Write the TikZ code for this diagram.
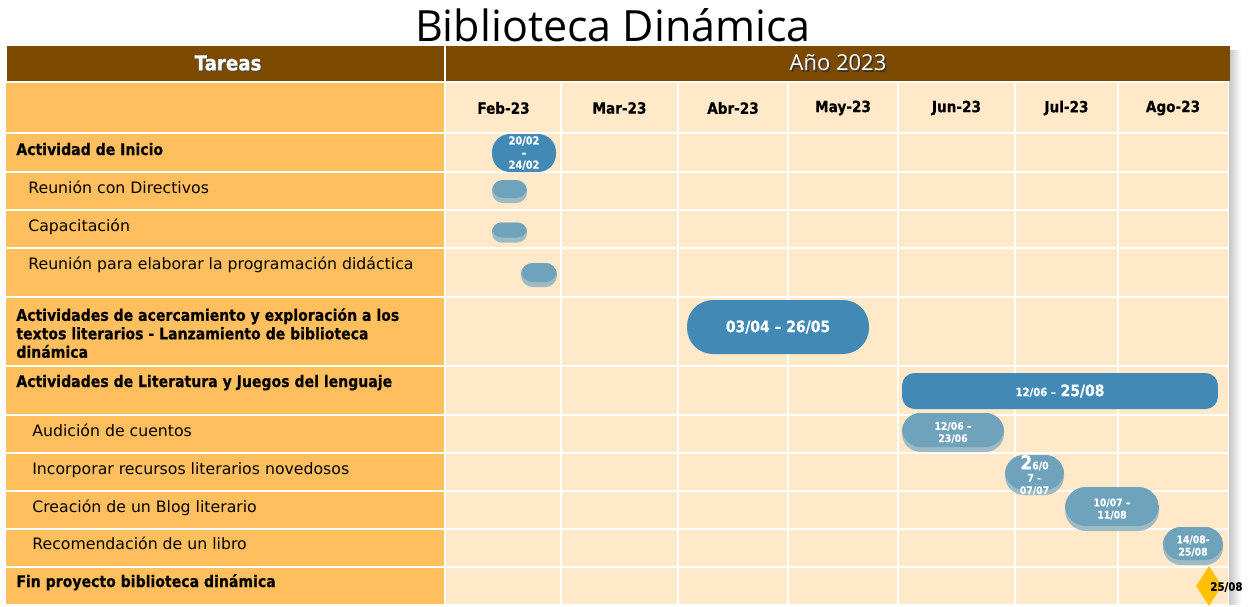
\documentclass[tikz,border=0pt]{standalone}
\usepackage{fontspec}
\usetikzlibrary{shapes.geometric}
\setmainfont{DejaVu Sans}
\newfontfamily\titlefont{Open Sans}
\newfontfamily\strongfont{DejaVu Sans}[FakeStretch=0.88, BoldFeatures={FakeBold=0.4}]
\definecolor{headbrown}{HTML}{7B4A00}
\definecolor{taskorange}{HTML}{FFBF5F}
\definecolor{cellcream}{HTML}{FFE9C9}
\definecolor{bardark}{HTML}{428AB5}
\definecolor{barmid}{HTML}{6FA2BB}
\definecolor{barlow}{HTML}{9EBBC5}
\definecolor{milestonegold}{HTML}{FFC000}
\tikzset{
  task/.style={anchor=base west, inner sep=0, font=\fontsize{8.95}{11}\selectfont},
  maintask/.style={anchor=base west, inner sep=0, font=\strongfont\bfseries\fontsize{9.1}{10.5}\selectfont},
  month/.style={font=\strongfont\bfseries\fontsize{8.8}{10}\selectfont},
  bigbar/.style={fill=bardark, text=white, inner sep=0, align=center, font=\strongfont\bfseries\fontsize{9}{10}\selectfont},
  smallbar/.style={fill=barlow, text=white, inner sep=0, align=center, rounded corners=#1,
    font=\strongfont\bfseries\fontsize{6}{7}\selectfont,
    path picture={\fill[barmid, rounded corners=#1] (path picture bounding box.north west)
      rectangle ([yshift=0.1cm]path picture bounding box.south east);}},
  milestone/.style={shape=diamond, fill=milestonegold, inner sep=0, minimum width=0.52cm, minimum height=0.80cm},
  gridline/.style={white, line width=0.04cm}
}
\begin{document}
\begin{tikzpicture}[x=0.02cm, y=-0.02cm]
		\useasboundingbox (0,0) rectangle (1256,606);
		% title
		\node (titulo) at (613,41) [anchor=base, inner sep=0, font=\titlefont\fontsize{24.5}{28}\selectfont] {Biblioteca Dinámica};
		% shadow and table background
		\shade [left color=black!22, right color=white] (1229,50) rectangle (1241,604);
		\fill [headbrown] (7,46) rectangle (444,81);
		\fill [headbrown] (446,46) rectangle (1230,81);
		\fill [taskorange] (6,83) rectangle (445,604);
		\fill [cellcream] (445,83) rectangle (1228,604);
		\draw [gridline] (6,133) -- (1228,133) (6,172) -- (1228,172) (6,210) -- (1228,210) (6,248) -- (1228,248);
		\draw [gridline] (6,297) -- (1228,297) (6,366) -- (1228,366) (6,415) -- (1228,415) (6,453) -- (1228,453);
		\draw [gridline] (6,491) -- (1228,491) (6,529) -- (1228,529) (6,567) -- (1228,567);
		\draw [gridline] (445,83) -- (445,604) (561,83) -- (561,604) (678,83) -- (678,604) (788,83) -- (788,604);
		\draw [gridline] (898,83) -- (898,604) (1015,83) -- (1015,604) (1118,83) -- (1118,604);
		% header
		\node (tareasShadow) at (229,64) [text=black!70, font=\strongfont\bfseries\fontsize{11.8}{13}\selectfont] {Tareas};
		\node (tareas) at (228,63) [text=white, font=\strongfont\bfseries\fontsize{11.8}{13}\selectfont] {Tareas};
		\node (anioShadow) at (839.5,64.5) [text=black!80, font=\titlefont\fontsize{12.5}{14}\selectfont] {Año 2023};
		\node (anio) at (838,63) [text=white, font=\titlefont\fontsize{12.5}{14}\selectfont] {Año 2023};
		\node [month] (feb) at (503.5,108) {Feb-23};
		\node [month] (mar) at (619.5,108) {Mar-23};
		\node [month] (abr) at (733,108) {Abr-23};
		\node [month] (may) at (843,108) {May-23};
		\node [month] (jun) at (956.5,108) {Jun-23};
		\node [month] (jul) at (1066.5,108) {Jul-23};
		\node [month] (ago) at (1173,108) {Ago-23};
		% tasks
		\node [maintask] (inicio) at (16,155) {Actividad de Inicio};
		\node [task] (directivos) at (28,193) {Reunión con Directivos};
		\node [task] (capacitacion) at (28,231) {Capacitación};
		\node [task] (programacion) at (28,269) {Reunión para elaborar la programación didáctica};
		\node [maintask, anchor=west, align=left] (acercamiento) at (16,333) {Actividades de acercamiento y exploración a los\\textos literarios - Lanzamiento de biblioteca\\dinámica};
		\node [maintask] (literatura) at (16,387) {Actividades de Literatura y Juegos del lenguaje};
		\node [task] (audicion) at (32,436) {Audición de cuentos};
		\node [task] (recursos) at (32,474) {Incorporar recursos literarios novedosos};
		\node [task] (blog) at (32,512) {Creación de un Blog literario};
		\node [task] (libro) at (32,549) {Recomendación de un libro};
		\node [maintask] (fin) at (16,587) {Fin proyecto biblioteca dinámica};
		% bars
		\node [bigbar, minimum width=1.28cm, minimum height=0.76cm, rounded corners=0.36cm, font=\strongfont\bfseries\fontsize{6.3}{6.9}\selectfont] (barInicio) at (524,153) {20/02\\–\\24/02};
		\node [smallbar=0.22cm, minimum width=0.70cm, minimum height=0.46cm] (barDirectivos) at (509.5,191.5) {};
		\node [smallbar=0.19cm, minimum width=0.70cm, minimum height=0.40cm] (barCapacitacion) at (509.5,232.5) {};
		\node [smallbar=0.23cm, minimum width=0.72cm, minimum height=0.48cm] (barProgramacion) at (539,275) {};
		\node [bigbar, minimum width=3.64cm, minimum height=1.08cm, rounded corners=0.52cm] (barAcercamiento) at (778,327) {03/04 – 26/05};
		\node [bigbar, minimum width=6.32cm, minimum height=0.72cm, rounded corners=0.25cm] (barLiteratura) at (1060,391) {{\fontsize{6.5}{7}\selectfont 12/06 –} 25/08};
		\node [smallbar=0.37cm, minimum width=2.04cm, minimum height=0.78cm] (barAudicion) at (953,432.5) {12/06 –\\23/06};
		\node [smallbar=0.38cm, minimum width=1.18cm, minimum height=0.80cm] (barRecursos) at (1034.5,475) {{\fontsize{11}{11}\selectfont 2}6/0\\7 –\\07/07};
		\node [smallbar=0.42cm, minimum width=1.88cm, minimum height=0.88cm] (barBlog) at (1112,509) {10/07 –\\11/08};
		\node [smallbar=0.36cm, minimum width=1.20cm, minimum height=0.76cm] (barLibro) at (1193,546) {14/08-\\25/08};
		% milestone
		\node [milestone] (hito) at (1209,586) {};
		\node [anchor=west, inner sep=0, font=\strongfont\bfseries\fontsize{6.6}{7}\selectfont] (hitoFecha) at (1210,587) {25/08};
\end{tikzpicture}
\end{document}
